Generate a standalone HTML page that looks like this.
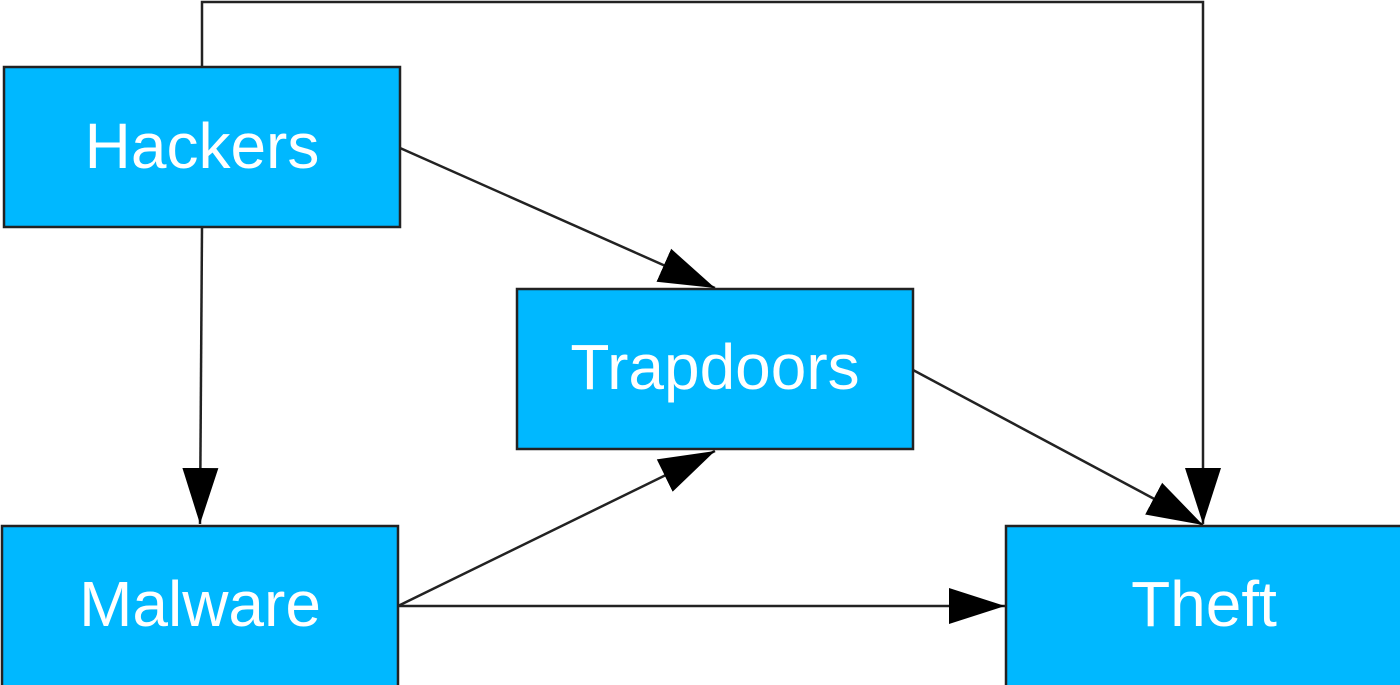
<!DOCTYPE html>
<html><head><style>
html,body{margin:0;padding:0;background:#fff;width:1400px;height:685px;overflow:hidden}
</style></head><body>
<svg width="1400" height="685" xmlns="http://www.w3.org/2000/svg">
<defs>
<marker id="a" markerUnits="userSpaceOnUse" markerWidth="60" markerHeight="60" viewBox="0 0 60 60" refX="56" refY="30" orient="auto">
<polygon points="0,12 56,30 0,48" fill="#000"/>
</marker>
</defs>
<g fill="#00b8ff" stroke="#222" stroke-width="2.5">
<rect x="4" y="67" width="396" height="160"/>
<rect x="517" y="289" width="396" height="160"/>
<rect x="2" y="526" width="396" height="170"/>
<rect x="1006" y="526" width="400" height="170"/>
</g>
<g stroke="#222" stroke-width="2.5" fill="none">
<polyline points="202,67 202,2 1203,2 1203,524" marker-end="url(#a)"/>
<line x1="400" y1="148" x2="715" y2="288" marker-end="url(#a)"/>
<line x1="202" y1="227" x2="200" y2="524" marker-end="url(#a)"/>
<line x1="398" y1="606" x2="715" y2="451" marker-end="url(#a)"/>
<line x1="398" y1="606" x2="1005" y2="606" marker-end="url(#a)"/>
<line x1="913" y1="370" x2="1203" y2="525" marker-end="url(#a)"/>
</g>
<g fill="#fff" font-family="Liberation Sans, Arial, sans-serif" font-size="64" text-anchor="middle">
<text x="202" y="168">Hackers</text>
<text x="715" y="389">Trapdoors</text>
<text x="200" y="626">Malware</text>
<text x="1204" y="626">Theft</text>
</g>
</svg>
</body></html>
